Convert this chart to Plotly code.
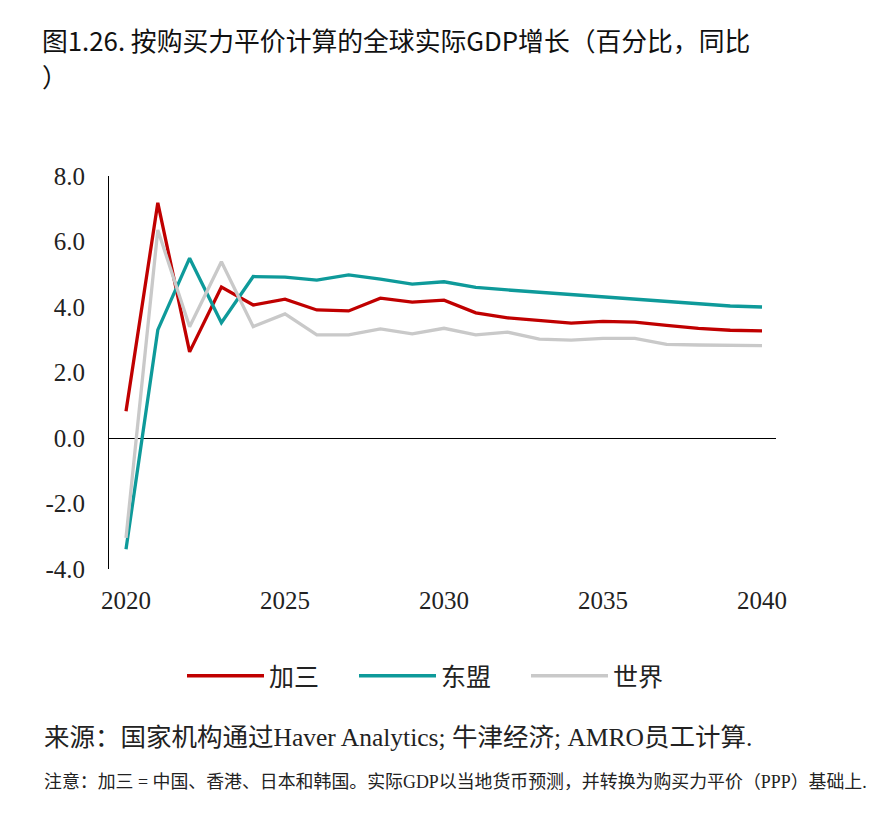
import plotly.graph_objects as go

years = list(range(2020, 2041))
plus3 = [0.82, 7.18, 2.63, 4.61, 4.06, 4.24, 3.91, 3.88, 4.27, 4.15, 4.21,
         3.82, 3.67, 3.60, 3.51, 3.56, 3.54, 3.44, 3.35, 3.29, 3.27]
asean = [-3.40, 3.30, 5.49, 3.52, 4.93, 4.91, 4.82, 4.98, 4.85, 4.70, 4.77,
         4.60, 4.52, 4.45, 4.39, 4.31, 4.23, 4.16, 4.09, 4.03, 4.00]
world = [-3.05, 6.35, 3.40, 5.38, 3.40, 3.79, 3.15, 3.15, 3.33, 3.18, 3.35,
         3.15, 3.23, 3.02, 2.99, 3.04, 3.04, 2.86, 2.84, 2.82, 2.82]
series_names = ["加三", "东盟", "世界"]
colors = ["#C00000", "#0E9A9A", "#C9C9C9"]
x_ticks = [2020, 2025, 2030, 2035, 2040]
y_ticks = [-4, -2, 0, 2, 4, 6, 8]
y_ticktext = ["%.1f" % v for v in y_ticks]

title_l1 = "图1.26. 按购买力平价计算的全球实际GDP增长（百分比，同比"
title_l2 = "）"
source = "来源：国家机构通过Haver Analytics; 牛津经济; AMRO员工计算."
note = "注意：加三 = 中国、香港、日本和韩国。实际GDP以当地货币预测，并转换为购买力平价（PPP）基础上."

SERIF = "Liberation Serif, Noto Sans CJK SC, serif"
CJK = "Noto Sans CJK SC"

fig = go.Figure()
for name, vals, c in zip(series_names, [plus3, asean, world], colors):
    fig.add_trace(go.Scatter(x=years, y=vals, name=name, mode="lines",
                             line=dict(color=c, width=3.3)))

L, R, T, B = 109, 116, 176, 265
ph = 834 - T - B
pw = 892 - L - R
def px_x(x):
    return (x - L) / pw
def px_y(y):
    return (834 - B - y) / ph

fig.update_layout(
    width=892, height=834,
    margin=dict(l=L, r=R, t=T, b=B),
    paper_bgcolor="white", plot_bgcolor="white",
    font=dict(family=SERIF, color="#222222", size=24),
    showlegend=True,
    legend=dict(orientation="h", x=px_x(182), xanchor="left", y=px_y(676), yanchor="middle",
                font=dict(size=25, family=CJK, color="#222222"), itemwidth=77,
                traceorder="normal", entrywidth=80, entrywidthmode="pixels"),
    xaxis=dict(range=[2019.465, 2040.44], tickvals=x_ticks, showgrid=False,
               zeroline=False, showline=False, ticks="", ticklabelstandoff=14,
               tickfont=dict(size=25)),
    yaxis=dict(range=[-4, 8], tickvals=y_ticks, ticktext=y_ticktext, showgrid=False,
               zeroline=True, zerolinecolor="black", zerolinewidth=1,
               showline=True, linecolor="black", linewidth=1, ticks="",
               ticklabelstandoff=18, tickfont=dict(size=25)),
)

fig.add_annotation(text=title_l1, xref="paper", yref="paper", x=px_x(40), y=px_y(39),
                   showarrow=False, xanchor="left", yanchor="middle", align="left",
                   font=dict(size=25.8, family=CJK, color="#111111"))
fig.add_annotation(text=title_l2, xref="paper", yref="paper", x=px_x(40), y=px_y(76),
                   showarrow=False, xanchor="left", yanchor="middle", align="left",
                   font=dict(size=25.8, family=CJK, color="#111111"))
fig.add_annotation(text=source, xref="paper", yref="paper", x=px_x(42), y=px_y(737),
                   showarrow=False, xanchor="left", yanchor="middle", align="left",
                   font=dict(size=25.5, family=SERIF, color="#222222"))
fig.add_annotation(text=note, xref="paper", yref="paper", x=px_x(42), y=px_y(782),
                   showarrow=False, xanchor="left", yanchor="middle", align="left",
                   font=dict(size=17.9, family=SERIF, color="#222222"))

fig.write_html("out.html")
